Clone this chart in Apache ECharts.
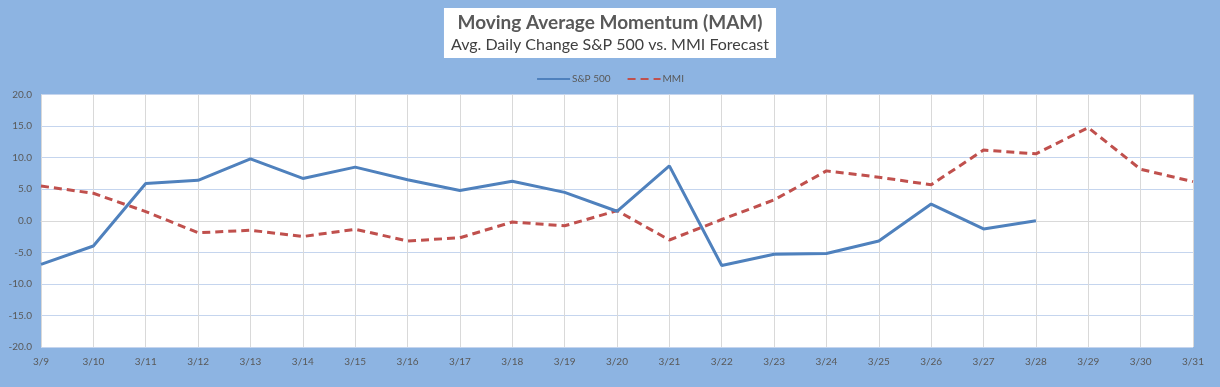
<!DOCTYPE html>
<html><head><meta charset="utf-8">
<script src="https://cdn.jsdelivr.net/npm/echarts@6/dist/echarts.min.js"></script>
<style>html,body{margin:0;padding:0;background:#8DB4E2;}#c{width:1220px;height:387px;}</style>
</head><body><div id="c"></div>
<script>
const categories = ['3/9','3/10','3/11','3/12','3/13','3/14','3/15','3/16','3/17','3/18','3/19','3/20','3/21','3/22','3/23','3/24','3/25','3/26','3/27','3/28','3/29','3/30','3/31'];
const sp500 = [-6.9,-4.0,5.9,6.4,9.8,6.7,8.5,6.5,4.8,6.25,4.5,1.5,8.7,-7.1,-5.3,-5.2,-3.2,2.65,-1.3,0.0,null,null,null];
const mmi = [5.5,4.35,1.45,-1.9,-1.5,-2.5,-1.35,-3.2,-2.7,-0.2,-0.8,1.6,-3.05,0.2,3.3,7.9,6.9,5.7,11.2,10.6,14.75,8.15,6.2];
const titleText = 'Moving Average Momentum (MAM)';
const subtitleText = 'Avg. Daily Change S&P 500 vs. MMI Forecast';
const seriesNames = ['S&P 500','MMI'];

const font = 'Lato, "Open Sans", sans-serif';
const chart = echarts.init(document.getElementById('c'));
chart.setOption({
  backgroundColor: '#8DB4E2',
  animation: false,
  title: {
    text: titleText, subtext: subtitleText, left: 'center', top: 8,
    backgroundColor: '#ffffff', padding: [5, 7, 5, 7], itemGap: 5,
    textStyle: {fontFamily: font, fontSize: 19, fontWeight: 'bold', color: '#595959'},
    subtextStyle: {fontFamily: font, fontSize: 16, color: '#404040'}
  },
  legend: {
    top: 69, left: 'center', itemWidth: 33, itemHeight: 10, itemGap: 16,
    itemStyle: {opacity: 0},
    textStyle: {fontFamily: font, fontSize: 10, color: '#595959', padding: [0, 0, 0, -3]},
    data: seriesNames
  },
  grid: {left: 41, right: 27, top: 94.5, bottom: 40, containLabel: false, show: true, backgroundColor: '#ffffff', borderWidth: 0},
  xAxis: {
    type: 'category', data: categories, boundaryGap: false,
    axisLine: {lineStyle: {color: '#d9d9d9', width: 1}},
    axisTick: {show: true, length: 4, lineStyle: {color: '#d9d9d9'}},
    axisLabel: {fontFamily: font, fontSize: 10, color: '#595959', margin: 10, interval: 0},
    splitLine: {show: true, lineStyle: {color: '#d9d9d9', width: 1}}
  },
  yAxis: {
    type: 'value', min: -20, max: 20, interval: 5,
    axisLine: {show: false}, axisTick: {show: false},
    axisLabel: {fontFamily: font, fontSize: 10, color: '#595959', margin: 9, formatter: v => v.toFixed(1)},
    splitLine: {lineStyle: {color: '#c5d5ee', width: 1}}
  },
  series: [
    {name: seriesNames[0], type: 'line', data: sp500, symbol: 'circle', showSymbol: false, lineStyle: {color: '#4F81BD', width: 3}, itemStyle: {color: '#4F81BD'}, z: 3},
    {name: seriesNames[1], type: 'line', data: mmi, symbol: 'circle', showSymbol: false, lineStyle: {color: '#C0504D', width: 3, type: [8, 5]}, itemStyle: {color: '#C0504D'}, z: 2}
  ]
});
</script></body></html>
